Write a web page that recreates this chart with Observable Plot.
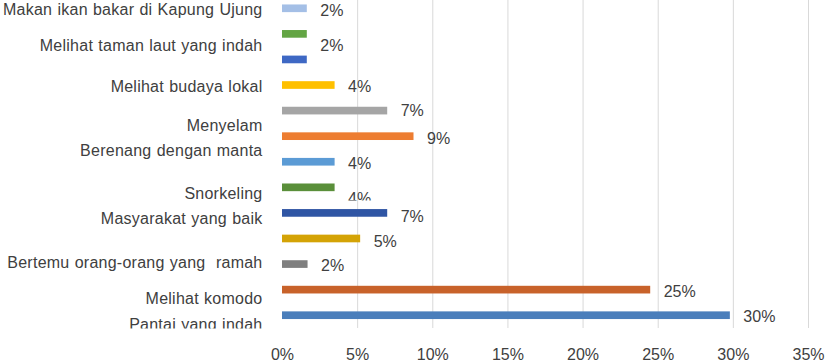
<!DOCTYPE html>
<html><head><meta charset="utf-8">
<script src="https://cdn.jsdelivr.net/npm/d3@7"></script>
<script src="https://cdn.jsdelivr.net/npm/@observablehq/plot@0.6"></script>
<style>body{margin:0;background:#fff}</style>
</head><body><div id="chart"></div>
<script>
// Bars, top to bottom
const barValues = [1.65, 1.65, 1.65, 3.5, 7.0, 8.75, 3.5, 3.5, 7.0, 5.2, 1.7, 24.5, 29.8];
const barColors = ["#a4bfe6", "#63a544", "#3e68c4", "#ffc000", "#a5a5a5", "#ed7d31", "#5b9bd5",
                   "#5a8f3a", "#2f55a4", "#d4a306", "#7f7f7f", "#c8622a", "#4a7ebb"];
// Category labels (as placed in the original, in bar-index units)
const categories = ["Makan ikan bakar di Kapung Ujung", "Melihat taman laut yang indah", "Melihat budaya lokal",
  "Menyelam", "Berenang dengan manta", "Snorkeling", "Masyarakat yang baik",
  "Bertemu orang-orang yang  ramah", "Melihat komodo", "Pantai yang indah"];
const categoryPos = [0.06, 1.45, 3.05, 4.58, 5.56, 7.23, 8.2, 9.92, 11.34, 12.34];
// Value labels
const valueLabels = ["2%", "2%", "4%", "7%", "9%", "4%", "4%", "7%", "5%", "2%", "25%", "30%"];
const valueLabelBar = [0, 1, 3, 4, 5, 6, 7, 8, 9, 10, 11, 12];
const valueLabelPos = [0.07, 1.45, 3.06, 4.01, 5.07, 6.05, 7.45, 8.12, 9.1, 10.05, 11.05, 12.05];
const clippedLabel = 6;
// Axis ticks
const xTicks = [0, 5, 10, 15, 20, 25, 30, 35];

const bars = barValues.map((v, i) => ({i, value: v, color: barColors[i]}));
const cats = categories.map((c, k) => ({label: c, pos: categoryPos[k]}));
const vlabels = valueLabels.map((t, k) => ({text: t, x: barValues[valueLabelBar[k]], pos: valueLabelPos[k], k}));

const half = 0.15;
const plot = Plot.plot({
  width: 827, height: 363,
  marginLeft: 282, marginRight: 19, marginTop: -4.5, marginBottom: 35,
  style: {fontFamily: "'Liberation Sans', Arial, sans-serif", fontSize: "16px", color: "#404040", background: "white", overflow: "hidden"},
  x: {domain: [0, 35], ticks: xTicks, tickFormat: d => d + "%", tickSize: 0, tickPadding: 20, label: null},
  y: {domain: [-0.5, 12.5], reverse: true, axis: null},
  color: {type: "identity"},
  marks: [
    Plot.ruleX(xTicks.filter(d => d > 0), {stroke: "#d9d9d9", strokeWidth: 1}),
    Plot.rect(bars, {x1: 0, x2: "value", y1: d => d.i - half, y2: d => d.i + half, fill: "color"}),
    Plot.text(vlabels.filter(d => d.k !== clippedLabel), {x: "x", y: "pos", text: "text", textAnchor: "start", dx: 13, fontSize: 16, fill: "#404040"}),
    Plot.text(vlabels.filter(d => d.k === clippedLabel), {x: "x", y: "pos", text: "text", textAnchor: "start", dx: 13, fontSize: 16, fill: "#404040"}),
    Plot.text(cats, {frameAnchor: "left", y: "pos", text: "label", textAnchor: "end", dx: -20, fontSize: 16, fill: "#404040"})
  ]
});
document.getElementById("chart").appendChild(plot);

const svg = d3.select(plot);
const ys = plot.scale("y");
const defs = svg.insert("defs", ":first-child");
defs.append("clipPath").attr("id", "clipCat").append("rect")
  .attr("x", -10).attr("y", -20).attr("width", 850).attr("height", ys.apply(12.5) + 20);
defs.append("clipPath").attr("id", "clipVal").append("rect")
  .attr("x", -10).attr("y", -20).attr("width", 850).attr("height", ys.apply(7.5) + 20);
const textGroups = svg.selectAll('g[aria-label="text"]').nodes();
const clippedGroup = textGroups[textGroups.length - 2];
const catGroup = textGroups[textGroups.length - 1];
d3.select(catGroup).attr("clip-path", "url(#clipCat)")
  .style("white-space", "pre").style("word-spacing", "0.5px").style("letter-spacing", "0.25px");
d3.select(clippedGroup).attr("clip-path", "url(#clipVal)");
</script>
</body></html>
